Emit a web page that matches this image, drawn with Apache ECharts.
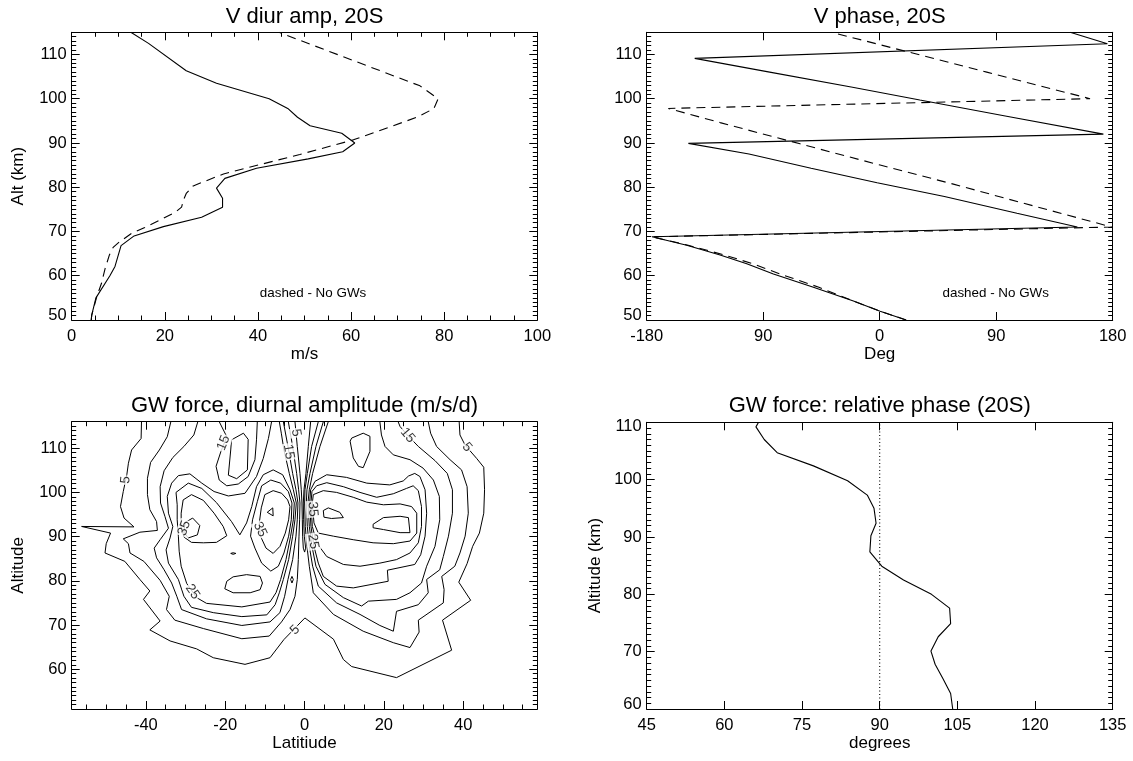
<!DOCTYPE html>
<html><head><meta charset="utf-8">
<script src="https://cdn.jsdelivr.net/npm/echarts@6/dist/echarts.min.js"></script>
<style>html,body{margin:0;padding:0;background:#fff}#c{width:1133px;height:761px}</style>
</head><body><div id="c"></div>
<script>
// ---------------- Panel 1: V diurnal amplitude, 20S ----------------
const ampAltGW   = [50.0,51.1,55.0,60.0,62.1,66.8,69.0,71.1,73.2,75.5,77.5,79.8,82.0,84.3,86.4,88.0,90.0,92.2,93.9,95.8,97.8,100.0,103.5,106.3,112.5,115.0];
const ampValGW   = [4.2,4.3,5.2,8.2,9.3,10.6,13.4,19.7,27.9,32.4,32.4,31.1,32.9,39.7,50.8,58.2,60.8,58.0,51.2,48.5,46.4,42.4,31.1,24.6,16.5,12.7];
const ampAltNoGW = [50.0,51.1,55.3,58.3,61.7,64.7,66.4,67.6,69.6,70.9,74.3,75.5,77.1,78.6,80.3,83.0,85.1,87.4,90.7,95.9,97.8,100.0,102.9,115.0];
const ampValNoGW = [4.2,4.3,5.4,6.4,7.2,8.1,8.9,10.2,12.9,15.7,22.2,23.6,24.0,24.6,26.1,32.6,40.4,49.0,60.5,74.4,77.8,78.7,74.8,44.5];
const ampTicks   = [0,20,40,60,80,100];
const altTicks   = [50,60,70,80,90,100,110];

// ---------------- Panel 2: V phase, 20S ----------------
const phaseAltGW   = [50.0,52.0,54.3,57.4,60.4,62.7,64.7,66.9,68.8,71.0,74.1,77.9,81.0,84.3,87.5,89.9,92.0,96.1,99.7,102.6,106.0,109.1,112.4,115.0];
const phaseValGW   = [20.4,0.3,-20.3,-51.2,-82.1,-102.7,-123.3,-149.1,-175.9,152.7,106,50,-2,-53,-101,-147.8,172.8,97,31,-21,-85,-142.9,175.9,147.1];
const phaseAltNoGW = [50.0,52.0,54.3,57.4,60.4,62.7,64.7,66.9,68.8,71.0,76.6,80.7,85.0,89.8,94.6,97.8,100.0,106.0,115.0];
const phaseValNoGW = [20.4,0.3,-20.3,-47,-77,-98,-120,-148,-176,179.3,108.4,56.9,0.3,-61.5,-123.3,-163.3,162.5,82.7,-37.1];
const phaseTicks      = [-180,-90,0,90,180];
const phaseTickLabels = ['-180','90','0','90','180'];

// ---------------- Panel 3: GW force diurnal amplitude, contour lines [lat, alt] ----------------
const latTicks  = [-40,-20,0,20,40];
const altTicksC = [60,70,80,90,100,110];
const c05outer = [[-41.1,116],[-41.2,112.2],[-43.6,109.6],[-44.4,106.6],[-44.8,104.0],[-45.7,100.2],[-46.4,96.8],[-45.5,94.2],[-43.0,92.2],[-56.2,92.3],[-48.9,90.8],[-50.0,88.4],[-50.3,86.3],[-45.3,84.4],[-41.5,80.3],[-39.0,77.7],[-40.6,75.8],[-36.4,70.9],[-39.0,68.9],[-33.9,66.4],[-27.2,64.6],[-23.0,62.6],[-15.0,61.1],[-8.7,62.6],[-5.2,66.7],[0.1,71.6],[7.3,66.8],[9.8,62.2],[11.9,60.6],[23.2,58.1],[37.1,64.3],[34.8,71.1],[41.9,75.6],[38.9,79.7],[41.0,83.9],[42.4,87.8],[44.1,90.8],[45.2,95.3],[45.4,100.6],[45.2,105.7],[43.4,107.7],[40.5,110.7],[39.2,113.0],[39.0,116]];
const c05trough = [[-2.40,116],[-1.82,110.4],[-1.14,104.3],[-0.81,100.6],[-0.64,97.6],[-0.55,93.8],[-0.47,90.1],[-0.30,87.4],[0.03,86.5],[0.29,87.4],[-0.05,90.1],[-0.22,93.8],[-0.30,97.6],[-0.13,100.6],[0.37,104.3],[0.96,110.4],[1.55,116]];
const c10left = [[-33.7,116],[-34.6,112.6],[-36.6,109.6],[-38.8,106.8],[-39.6,103.2],[-39.6,99.5],[-39.0,96.1],[-37.3,93.4],[-37.1,91.4],[-41.5,91.0],[-45.7,89.5],[-44.4,88.4],[-44.0,86.3],[-40.5,84.4],[-36.4,80.1],[-34.1,76.5],[-34.8,73.5],[-32.7,71.1],[-25.5,69.2],[-15.8,66.9],[-8.9,67.5],[-5.8,70.7],[-3.66,73.5],[-2.40,76.5],[-1.82,80.3],[-1.56,84.8],[-1.39,90.1],[-1.23,93.8],[-1.14,97.6],[-1.48,100.6],[-1.98,104.3],[-2.99,110.4],[-4.08,116]];
const c10dot = [[-3.50,80.3],[-3.16,81.0],[-2.82,80.3],[-3.16,79.5],[-3.50,80.3]];
const c15left = [[-26.9,116],[-27.9,113.0],[-30.4,110.4],[-33.2,107.9],[-35.4,104.9],[-36.4,101.3],[-36.3,97.6],[-35.2,94.6],[-34.3,91.9],[-36.4,89.3],[-37.9,87.4],[-37.3,85.2],[-35.4,82.5],[-33.5,79.5],[-32.2,76.5],[-31.0,73.5],[-24.7,71.4],[-15.8,69.9],[-8.7,70.7],[-6.2,72.8],[-5.01,76.5],[-4.17,80.3],[-2.99,84.8],[-2.15,90.1],[-1.82,93.8],[-1.65,97.6],[-2.15,100.6],[-2.99,104.3],[-4.17,110.4],[-5.34,116]];
const c15cup  = [[-21.5,116],[-19.6,112.6],[-21.1,109.2],[-22.3,105.9],[-21.5,102.8],[-19.6,101.5],[-16.7,101.9],[-14.2,103.6],[-12.5,107.4],[-12.1,111.9],[-11.9,116]];
const c10cupLoop = [[-18.4,111.9],[-15.4,113.4],[-14.2,112.0],[-14.4,105.1],[-17.1,103.1],[-19.2,103.9],[-18.6,109.6],[-18.4,111.9]];
const c20left = [[-8.3,116],[-9.1,112.2],[-10.4,107.7],[-12.1,103.6],[-15.0,99.8],[-19.2,99.2],[-22.8,100.2],[-25.9,102.1],[-28.9,104.2],[-31.8,103.8],[-33.5,102.1],[-34.6,99.1],[-34.3,95.3],[-33.2,92.3],[-33.9,89.7],[-34.9,87.0],[-34.3,84.0],[-31.8,80.3],[-30.4,76.5],[-28.5,74.0],[-23.0,72.8],[-15.8,71.9],[-9.5,72.3],[-7.4,74.6],[-6.35,77.3],[-5.34,80.3],[-4.00,84.8],[-2.99,90.1],[-2.40,93.8],[-2.07,97.6],[-2.82,100.6],[-3.83,104.3],[-5.18,109.6],[-5.85,113.4],[-6.35,116]];
const c25left = [[-32.4,100.0],[-29.3,102.1],[-25.9,100.9],[-22.2,97.7],[-18.4,93.4],[-16.3,90.4],[-14.6,93.1],[-13.3,96.8],[-12.1,101.3],[-10.4,104.0],[-7.9,105.1],[-5.51,104.0],[-3.66,100.6],[-2.57,97.6],[-2.82,93.8],[-3.50,90.1],[-4.67,84.8],[-6.02,80.3],[-7.19,77.3],[-8.7,75.2],[-15.8,74.1],[-24.7,74.9],[-27.2,76.2],[-29.7,79.4],[-31.1,83.3],[-31.6,86.7],[-31.8,90.1],[-32.1,93.8],[-32.1,97.2],[-32.4,100.0]];
const c25dash = [[-18.6,86.2],[-18.0,86.35],[-17.3,86.2],[-18.0,86.0],[-18.6,86.2]];
const c30leftA = [[-30.6,98.3],[-28.5,99.5],[-25.5,98.2],[-22.8,95.3],[-20.5,92.3],[-19.6,90.2],[-22.2,88.7],[-25.5,88.6],[-28.5,88.7],[-30.4,89.9],[-31.1,92.3],[-31.1,95.3],[-30.6,98.3]];
const c30leftB = [[-10.8,101.5],[-8.5,102.8],[-6.02,102.1],[-4.08,100.2],[-3.16,97.6],[-3.33,93.8],[-4.00,90.1],[-5.18,86.3],[-6.60,83.3],[-8.5,82.2],[-10.8,84.0],[-12.5,87.4],[-13.6,90.1],[-13.1,93.8],[-11.9,97.9],[-10.8,101.5]];
const c30leftC = [[-19.6,79.9],[-18.0,80.9],[-14.6,81.4],[-11.2,81.0],[-10.6,79.5],[-11.2,78.0],[-13.7,77.3],[-18.0,77.3],[-20.1,78.2],[-19.6,79.9]];
const c35leftA = [[-30.1,93.2],[-28.2,94.2],[-26.4,92.5],[-27.0,90.4],[-29.3,89.7],[-30.4,91.0],[-30.1,93.2]];
const c35leftB = [[-10.0,99.5],[-7.9,100.4],[-5.76,99.8],[-4.25,98.3],[-3.66,96.8],[-4.00,93.8],[-4.84,90.8],[-6.18,87.8],[-7.9,86.2],[-9.7,87.4],[-11.1,90.1],[-11.4,93.1],[-10.9,96.5],[-10.0,99.5]];
const c40leftB = [[-9.4,95.5],[-8.0,96.5],[-7.9,94.7],[-9.4,95.5]];
const c10right = [[3.48,116],[1.80,110.4],[0.71,104.3],[0.12,100.6],[0.03,97.6],[0.20,92.3],[0.62,87.8],[1.21,83.3],[2.22,77.3],[7.3,72.4],[14.8,68.6],[22.4,66.0],[26.6,64.9],[28.9,68.4],[28.7,71.1],[35.0,75.0],[35.2,78.0],[34.6,81.0],[37.9,83.3],[39.2,86.3],[40.5,90.1],[41.3,95.3],[41.0,101.3],[39.6,105.1],[36.7,107.4],[33.3,110.4],[31.8,113.4],[31.2,116]];
const c15right = [[4.74,116],[2.89,110.4],[1.38,104.3],[0.62,100.6],[0.45,97.6],[0.71,92.3],[1.21,87.8],[2.05,83.3],[3.48,78.8],[8.1,75.0],[14.0,72.4],[19.0,69.9],[22.4,68.6],[23.2,73.1],[28.7,74.6],[31.2,77.3],[30.8,80.3],[34.1,82.5],[35.0,85.5],[36.3,90.1],[37.3,95.3],[37.3,100.6],[36.0,104.3],[32.9,107.2],[28.7,110.4],[25.7,113.2],[24.1,114.9],[23.6,116]];
const c20right = [[6.00,116],[3.90,110.4],[2.05,104.3],[1.21,100.6],[0.87,97.6],[1.21,92.3],[1.88,87.8],[2.89,83.3],[5.16,79.2],[9.8,76.2],[14.4,74.3],[16.1,75.4],[23.2,75.8],[26.6,77.3],[29.5,79.5],[30.8,83.3],[32.9,87.8],[34.1,93.8],[34.0,99.1],[32.5,102.8],[29.9,105.5],[26.6,107.4],[22.4,108.5],[20.3,110.4],[19.4,113.0],[19.0,116]];
const c25topLoop = [[11.9,112.3],[14.8,113.4],[16.5,112.7],[16.5,109.3],[14.8,105.6],[13.6,105.9],[12.3,107.8],[11.5,111.6],[11.9,112.3]];
const c25right = [[1.29,97.6],[1.55,100.6],[2.64,102.5],[5.6,104.0],[10.6,103.4],[15.7,102.1],[21.5,101.7],[24.9,102.6],[26.2,103.7],[27.8,104.3],[29.1,103.6],[30.4,100.6],[30.8,95.3],[30.4,90.1],[29.3,85.9],[27.8,83.7],[20.9,82.4],[21.1,79.9],[12.3,78.4],[8.1,78.8],[4.74,81.0],[3.48,84.0],[2.39,87.8],[1.63,92.3],[1.29,97.6]];
const c30right = [[1.63,97.6],[1.88,100.2],[3.06,101.5],[5.6,102.2],[9.8,101.3],[14.0,100.0],[18.2,98.9],[22.4,99.7],[25.7,100.9],[27.4,101.5],[28.7,100.4],[29.5,96.8],[29.5,92.3],[28.7,88.6],[26.6,86.3],[23.2,84.8],[19.0,84.0],[14.0,83.3],[9.8,83.7],[5.6,85.5],[3.06,88.6],[1.97,92.3],[1.63,97.6]];
const c35right = [[1.97,97.6],[2.22,99.5],[4.74,100.4],[8.1,100.0],[12.3,98.9],[15.7,97.8],[19.9,97.2],[24.1,97.4],[27.0,96.8],[28.3,95.3],[28.3,90.8],[26.6,89.0],[22.4,88.4],[17.3,88.6],[12.3,89.3],[7.3,90.1],[3.48,90.8],[2.39,93.1],[1.97,97.6]];
const c40rightD = [[4.74,95.9],[6.0,96.5],[8.9,95.5],[9.8,94.3],[6.8,94.1],[4.9,94.4],[4.74,95.9]];
const c40rightE = [[17.3,92.8],[19.9,94.3],[24.1,94.6],[26.2,94.3],[26.6,90.9],[24.1,90.9],[19.9,91.6],[17.3,92.0],[17.3,92.8]];
const contourList = [c05outer,c05trough,c10left,c10dot,c15left,c15cup,c10cupLoop,c20left,c25left,c25dash,c30leftA,c30leftB,c30leftC,c35leftA,c35leftB,c40leftB,
                     c10right,c15right,c20right,c25topLoop,c25right,c30right,c35right,c40rightD,c40rightE];
const contourLabelText = ['5','15','5','15','15','5','35','35','35','25','25','5'];
const contourLabelPos  = [[-45.1,102.8],[-20.4,111.2],[-2.1,113.5],[-4.0,109.2],[26.0,112.9],[41.0,110.2],[-30.3,91.9],[-11.2,91.6],[2.1,96.2],[2.2,88.9],[-28.2,77.5],[-2.4,68.9]];
const contourLabelRot  = [85,68,-80,-80,-50,-50,70,-65,-85,-80,-55,45];

// ---------------- Panel 4: GW force relative phase ----------------
const relAlt   = [60.0,62.7,65.3,67.8,70.1,72.6,74.9,77.6,80.0,82.5,84.9,87.4,90.2,92.4,95.0,97.3,99.8,102.4,104.7,107.0,109.2,110.0];
const relPhase = [104.1,103.7,102.2,100.7,99.9,101.3,103.7,103.5,100.0,94.6,90.4,88.1,88.3,89.3,88.9,87.6,83.8,77.2,70.2,67.7,66.1,66.6];
const relRefPhase = 90;
const relTicks    = [45,60,75,90,105,120,135];
const relAltTicks = [60,70,80,90,100,110];

// ---------------- helpers ----------------
const FONT = "'Liberation Sans', Arial, Helvetica, sans-serif";
function zip(xs, ys){ return xs.map((x,i)=>[x, ys[i]]); }
function steps(a,b,st,skip){ const r=[]; for(let k=0;;k++){ const v=Math.round((a+k*st)*1000)/1000; if(v>b+1e-9) break; if(!skip.includes(v)) r.push(v);} return r; }

const grids = [
  {left:71.7, top:32.3, width:465.6, height:287.7},
  {left:646.7, top:32.3, width:466, height:287.7},
  {left:71.7, top:421.7, width:465.6, height:287.3},
  {left:646.7, top:422.3, width:466, height:286.7}
];

const xAxes = [], yAxes = [];
function addAxes(list, dim, gi, c){
  const posA = dim==='x' ? 'bottom' : 'left';
  const posB = dim==='x' ? 'top' : 'right';
  const common = {type:'value', gridIndex:gi, min:c.min, max:c.max, splitLine:{show:false}, silent:true};
  const line = {show:true, onZero:false, lineStyle:{color:'#000', width:1}};
  const noline = {show:false, onZero:false};
  const rich = {
    lo:{fontSize:16.5, fontFamily:FONT, color:'#000', padding:[0,0,10,0]},
    hi:{fontSize:16.5, fontFamily:FONT, color:'#000', padding:[8,0,0,0]},
    n:{fontSize:16.5, fontFamily:FONT, color:'#000'}
  };
  list.push(Object.assign({}, common, {
    position:posA, axisLine:line,
    axisTick:{show:true, inside:true, length:8, customValues:c.major, lineStyle:{color:'#000', width:1}},
    axisLabel:{show:true, customValues:c.major, margin:c.margin, color:'#000', fontSize:16.5, fontFamily:FONT, rich:rich,
      formatter:function(v){ const i=c.major.indexOf(v); const t=c.labels? c.labels[i] : String(v);
        if(c.shiftLo && v===c.min) return '{lo|'+t+'}'; if(c.shiftHi && v===c.max) return '{hi|'+t+'}'; return '{n|'+t+'}'; }},
    name:c.name||'', nameLocation:'middle', nameGap:c.nameGap||0, nameMoveOverlap:false,
    nameTextStyle:{fontSize:17, fontFamily:FONT, color:'#000'}
  }));
  list.push(Object.assign({}, common, {position:posA, axisLine:noline,
    axisTick:{show:c.minor.length>0, inside:true, length:4.5, customValues:c.minor, lineStyle:{color:'#000', width:1}}, axisLabel:{show:false}}));
  list.push(Object.assign({}, common, {position:posB, axisLine:line,
    axisTick:{show:true, inside:true, length:8, customValues:c.major, lineStyle:{color:'#000', width:1}}, axisLabel:{show:false}}));
  list.push(Object.assign({}, common, {position:posB, axisLine:noline,
    axisTick:{show:c.minor.length>0, inside:true, length:4.5, customValues:c.minor, lineStyle:{color:'#000', width:1}}, axisLabel:{show:false}}));
}
addAxes(xAxes,'x',0,{min:0,max:100,major:ampTicks,minor:steps(0,100,5,ampTicks),margin:8,name:'m/s',nameGap:26});
addAxes(yAxes,'y',0,{min:50,max:115,major:altTicks,minor:steps(50,115,1,altTicks),margin:5,name:'Alt (km)',nameGap:45,shiftLo:true});
addAxes(xAxes,'x',1,{min:-180,max:180,major:phaseTicks,labels:phaseTickLabels,minor:[],margin:8,name:'Deg',nameGap:26});
addAxes(yAxes,'y',1,{min:50,max:115,major:altTicks,minor:steps(50,115,1,altTicks),margin:5,shiftLo:true});
addAxes(xAxes,'x',2,{min:-58.7,max:58.7,major:latTicks,minor:steps(-55,55,5,latTicks),margin:8,name:'Latitiude',nameGap:26});
addAxes(yAxes,'y',2,{min:51,max:116,major:altTicksC,minor:steps(52,115,1,altTicksC),margin:5,name:'Altitude',nameGap:45});
addAxes(xAxes,'x',3,{min:45,max:135,major:relTicks,minor:[],margin:8,name:'degrees',nameGap:26});
addAxes(yAxes,'y',3,{min:60,max:110,major:relAltTicks,minor:steps(60,110,1,relAltTicks),margin:5,name:'Altitude (km)',nameGap:43,shiftLo:true,shiftHi:true});

function lineSeries(gi, data, dash, w){
  return {type:'line', xAxisIndex:gi*4, yAxisIndex:gi*4, data:data, showSymbol:false, symbol:'none', silent:true,
    lineStyle:{color:'#000', width:w||1.1, type: dash||'solid'}, z:2, animation:false};
}
const series = [
  lineSeries(0, zip(ampValGW, ampAltGW)),
  lineSeries(0, zip(ampValNoGW, ampAltNoGW), [9,6]),
  lineSeries(1, zip(phaseValGW, phaseAltGW)),
  lineSeries(1, zip(phaseValNoGW, phaseAltNoGW), [9,6]),
  lineSeries(3, zip(relPhase, relAlt)),
  lineSeries(3, [[relRefPhase, relAltTicks[0]],[relRefPhase, relAltTicks[relAltTicks.length-1]]], [1,2.5])
];
contourList.forEach(c => series.push(lineSeries(2, c, null, 1)));
series.push({type:'scatter', xAxisIndex:8, yAxisIndex:8, symbolSize:1, itemStyle:{color:'rgba(0,0,0,0)'}, z:5, silent:true, animation:false,
  data: contourLabelPos.map((p,i)=>({value:p, label:{show:true, position:'inside', formatter:contourLabelText[i], rotate:contourLabelRot[i],
    fontSize:13.5, fontFamily:FONT, color:'#000', backgroundColor:'#fff', padding:[0,1]}}))});

function txt(text, x, y, size){
  return {type:'text', x:x, y:y, silent:true, style:{text:text, fill:'#000', font:size+'px '+FONT, fontSize:size, fontFamily:FONT,
    align:'center', verticalAlign:'middle', textAlign:'center', textVerticalAlign:'middle'}};
}

const chart = echarts.init(document.getElementById('c'), null, {renderer:'canvas'});
chart.setOption({
  animation:false, backgroundColor:'#fff',
  grid: grids.map(g => Object.assign({outerBoundsMode:'none', containLabel:false}, g)),
  xAxis: xAxes, yAxis: yAxes, series: series,
  graphic: [
    txt('V diur amp, 20S', 304.5, 17.4, 22),
    txt('V phase, 20S', 879.7, 17.4, 22),
    txt('GW force, diurnal amplitude (m/s/d)', 304.5, 405.7, 22),
    txt('GW force: relative phase (20S)', 879.7, 405.7, 22),
    txt('dashed - No GWs', 313, 293.7, 13.4),
    txt('dashed - No GWs', 995.7, 293.7, 13.4)
  ]
});
</script></body></html>
